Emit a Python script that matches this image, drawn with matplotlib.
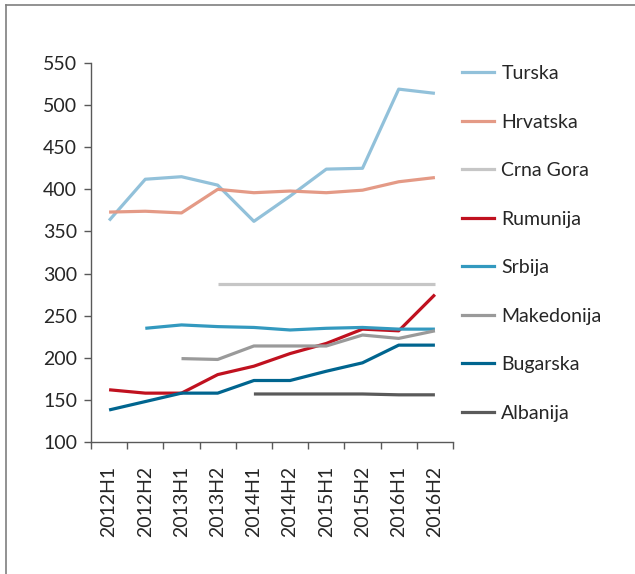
import numpy as np
from matplotlib import pyplot as plt
from matplotlib.lines import Line2D

# half-year periods on the x axis
periods = ["2012H1", "2012H2", "2013H1", "2013H2", "2014H1",
           "2014H2", "2015H1", "2015H2", "2016H1", "2016H2"]

nan = np.nan
turska = [363, 412, 415, 405, 362, 392, 424, 425, 519, 514]
hrvatska = [373, 374, 372, 400, 396, 398, 396, 399, 409, 414]
crna_gora = [nan, nan, nan, 288, 288, 288, 288, 288, 288, 288]
rumunija = [162, 158, 158, 180, 190, 205, 217, 234, 232, 275]
srbija = [nan, 235, 239, 237, 236, 233, 235, 236, 234, 234]
makedonija = [nan, nan, 199, 198, 214, 214, 214, 227, 223, 232]
bugarska = [138, 148, 158, 158, 173, 173, 184, 194, 215, 215]
albanija = [nan, nan, nan, nan, 157, 157, 157, 157, 156, 156]

names = ["Turska", "Hrvatska", "Crna Gora", "Rumunija",
         "Srbija", "Makedonija", "Bugarska", "Albanija"]
series = [turska, hrvatska, crna_gora, rumunija,
          srbija, makedonija, bugarska, albanija]
colors = ["#92c1da", "#e49a86", "#c6c6c6", "#c0111f",
          "#3399bf", "#9a9a9a", "#00658f", "#5a5a5a"]

plt.rcParams['font.family'] = ['Lato', 'DejaVu Sans']
axis_col = "#595959"
text_col = "#262626"
fs = 14

fig = plt.figure(figsize=(6.35, 5.74), dpi=100)
ax = fig.add_axes([0.1433, 0.2300, 0.5701, 0.6602])

x = np.arange(len(periods))
for name, vals, c in zip(names, series, colors):
    ax.plot(x, vals, color=c, lw=2.3, label=name, solid_capstyle='butt')

ax.set_xlim(-0.5, len(periods) - 0.5)
ax.set_ylim(100, 550)
ax.set_yticks(np.arange(100, 551, 50))

# tick marks between categories, labels at centres
ax.set_xticks(np.arange(-0.5, len(periods), 1))
ax.set_xticklabels([])
ax.set_xticks(x, minor=True)
ax.set_xticklabels(periods, minor=True, rotation=90)
ax.tick_params(axis='x', which='minor', length=0, pad=17)
ax.tick_params(axis='x', which='major', length=5, width=1, color=axis_col)
ax.tick_params(axis='y', length=5, width=1, color=axis_col, pad=5)
ax.tick_params(which='both', labelsize=fs, labelcolor=text_col)

for s in ['top', 'right']:
    ax.spines[s].set_visible(False)
for s in ['left', 'bottom']:
    ax.spines[s].set_color(axis_col)
    ax.spines[s].set_linewidth(1)

handles = [Line2D([], [], color=c, lw=2.3) for c in colors]
fig.legend(handles, names, loc='upper left', bbox_to_anchor=(0.716, 0.900),
           frameon=False, fontsize=fs, handlelength=1.6, handletextpad=0.4,
           labelspacing=1.62, labelcolor=text_col, borderaxespad=0)

# frame lines on the left and top of the figure
fig.add_artist(Line2D([0.0095, 0.0095], [0, 0.991], color="#7f7f7f", lw=1.2))
fig.add_artist(Line2D([0.0095, 1], [0.991, 0.991], color="#7f7f7f", lw=1.2))

plt.savefig("out.png")
